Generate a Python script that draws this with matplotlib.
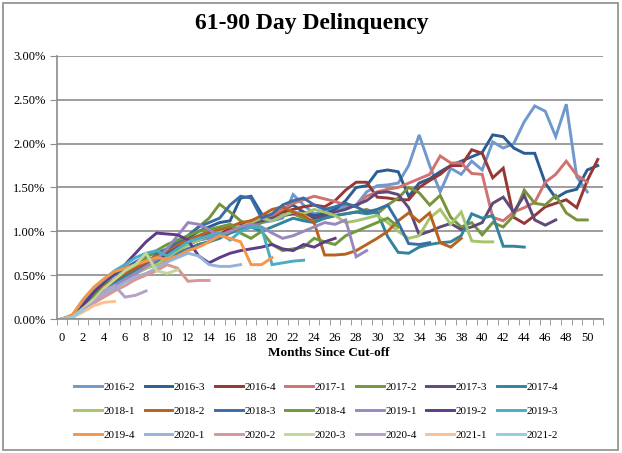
import numpy as np
import matplotlib
matplotlib.use("Agg")
import matplotlib.pyplot as plt
from matplotlib.patches import Rectangle
from matplotlib.ticker import PercentFormatter

# delinquency rate (%) by months since cut-off, one list per vintage
v2016_2 = [0.00, 0.02, 0.10, 0.18, 0.28, 0.35, 0.45, 0.52, 0.58, 0.65, 0.72, 0.78, 0.85, 0.90, 0.92, 0.98, 1.02,
           1.00, 1.05, 1.10, 1.12, 1.15, 1.42, 1.30, 1.20, 1.22, 1.25, 1.28, 1.30, 1.45, 1.52, 1.53, 1.55, 1.75,
           2.10, 1.75, 1.45, 1.72, 1.65, 1.80, 1.70, 2.02, 1.95, 2.00, 2.25, 2.43, 2.37, 2.08, 2.45, 1.62, 1.45]
v2016_3 = [0.00, 0.03, 0.15, 0.28, 0.38, 0.45, 0.52, 0.60, 0.66, 0.72, 0.78, 0.85, 0.92, 1.00, 1.05, 1.10, 1.12,
           1.38, 1.40, 1.20, 1.15, 1.25, 1.30, 1.22, 1.18, 1.20, 1.25, 1.35, 1.50, 1.52, 1.68, 1.70, 1.68, 1.40,
           1.55, 1.60, 1.68, 1.75, 1.80, 1.85, 1.90, 2.10, 2.08, 1.95, 1.89, 1.89, 1.55, 1.38, 1.45, 1.48, 1.70, 1.75]
v2016_4 = [0.00, 0.03, 0.18, 0.30, 0.38, 0.45, 0.52, 0.58, 0.62, 0.68, 0.72, 0.80, 0.85, 0.90, 0.95, 1.00, 1.02,
           1.08, 1.12, 1.15, 1.18, 1.22, 1.25, 1.28, 1.30, 1.28, 1.35, 1.47, 1.56, 1.56, 1.39, 1.38, 1.36, 1.36,
           1.50, 1.58, 1.65, 1.75, 1.75, 1.93, 1.89, 1.61, 1.72, 1.16, 1.09, 1.18, 1.28, 1.32, 1.36, 1.27, 1.58, 1.82]
v2017_1 = [0.00, 0.02, 0.12, 0.22, 0.30, 0.38, 0.45, 0.52, 0.58, 0.62, 0.68, 0.75, 0.80, 0.85, 0.88, 0.95, 1.00,
           1.05, 1.08, 1.12, 1.18, 1.25, 1.32, 1.36, 1.40, 1.37, 1.34, 1.30, 1.28, 1.40, 1.45, 1.48, 1.50, 1.55,
           1.60, 1.65, 1.86, 1.78, 1.78, 1.66, 1.65, 1.16, 1.12, 1.22, 1.27, 1.33, 1.56, 1.65, 1.80, 1.64, 1.56]
v2017_2 = [0.00, 0.03, 0.15, 0.25, 0.35, 0.42, 0.50, 0.58, 0.65, 0.72, 0.80, 0.88, 0.95, 1.05, 1.15, 1.31, 1.22,
           1.12, 1.05, 1.10, 1.15, 1.18, 1.20, 1.15, 1.12, 1.15, 1.18, 1.20, 1.22, 1.25, 1.20, 1.30, 1.38, 1.50,
           1.44, 1.30, 1.41, 1.16, 1.05, 1.10, 0.96, 1.10, 1.05, 1.18, 1.47, 1.32, 1.30, 1.41, 1.21, 1.13, 1.13]
v2017_3 = [0.00, 0.03, 0.17, 0.28, 0.36, 0.42, 0.50, 0.58, 0.62, 0.68, 0.75, 0.82, 0.88, 0.92, 0.98, 1.02, 1.05,
           1.08, 1.10, 1.12, 1.15, 1.18, 1.20, 1.22, 1.15, 1.18, 1.22, 1.25, 1.30, 1.35, 1.44, 1.45, 1.42, 1.27,
           0.96, 1.00, 1.05, 1.09, 1.02, 1.05, 1.10, 1.32, 1.39, 1.22, 1.41, 1.13, 1.07, 1.13]
v2017_4 = [0.00, 0.03, 0.15, 0.25, 0.32, 0.40, 0.48, 0.55, 0.60, 0.65, 0.70, 0.75, 0.80, 0.85, 0.88, 0.92, 0.98,
           1.02, 1.05, 1.00, 1.05, 1.10, 1.15, 1.12, 1.10, 1.15, 1.18, 1.20, 1.22, 1.20, 1.22, 0.94, 0.76, 0.75,
           0.82, 0.85, 0.87, 0.88, 0.95, 1.20, 1.15, 1.18, 0.83, 0.83, 0.82]
v2018_1 = [0.00, 0.02, 0.12, 0.22, 0.30, 0.38, 0.45, 0.52, 0.58, 0.62, 0.70, 0.78, 0.85, 0.90, 0.95, 1.00, 1.08,
           1.05, 1.10, 1.15, 1.12, 1.18, 1.22, 1.20, 1.25, 1.22, 1.18, 1.10, 1.12, 1.15, 1.18, 1.10, 1.00, 0.92,
           0.95, 1.15, 1.25, 1.08, 1.22, 0.89, 0.88, 0.88]
v2018_2 = [0.00, 0.03, 0.18, 0.30, 0.38, 0.45, 0.52, 0.58, 0.65, 0.72, 0.78, 0.85, 0.90, 0.95, 1.00, 1.02, 1.05,
           1.10, 1.12, 1.18, 1.25, 1.28, 1.22, 1.18, 1.10, 0.73, 0.73, 0.74, 0.78, 0.85, 0.92, 1.00, 1.12, 1.21,
           1.11, 1.21, 0.87, 0.82, 0.92]
v2018_3 = [0.00, 0.04, 0.20, 0.32, 0.42, 0.50, 0.58, 0.65, 0.72, 0.75, 0.80, 0.88, 0.95, 1.05, 1.10, 1.15, 1.30,
           1.40, 1.38, 1.15, 1.20, 1.30, 1.35, 1.38, 1.30, 1.25, 1.28, 1.32, 1.28, 1.22, 1.25, 1.30, 1.10, 0.86,
           0.85, 0.87]
v2018_4 = [0.00, 0.03, 0.14, 0.26, 0.36, 0.45, 0.55, 0.62, 0.70, 0.78, 0.85, 0.90, 0.95, 1.00, 1.02, 1.05, 1.08,
           0.98, 0.92, 1.00, 0.85, 0.78, 0.80, 0.82, 0.92, 0.88, 0.85, 0.95, 1.00, 1.05, 1.10, 1.15, 1.05]
v2019_1 = [0.00, 0.02, 0.12, 0.22, 0.30, 0.38, 0.45, 0.52, 0.60, 0.68, 0.80, 0.95, 1.10, 1.08, 1.02, 0.95, 1.00,
           1.05, 1.08, 1.05, 0.98, 0.92, 0.95, 1.00, 1.05, 1.10, 1.08, 1.13, 0.71, 0.78]
v2019_2 = [0.00, 0.03, 0.15, 0.30, 0.42, 0.52, 0.62, 0.75, 0.88, 0.98, 0.97, 0.96, 0.90, 0.72, 0.64, 0.70, 0.75,
           0.78, 0.80, 0.82, 0.85, 0.80, 0.78, 0.85, 0.82, 0.88, 0.92]
v2019_3 = [0.00, 0.04, 0.22, 0.35, 0.45, 0.55, 0.62, 0.70, 0.75, 0.78, 0.72, 0.80, 0.88, 0.92, 0.95, 0.98, 0.90,
           1.00, 1.05, 1.04, 0.62, 0.64, 0.66, 0.67]
v2019_4 = [0.00, 0.05, 0.22, 0.36, 0.46, 0.54, 0.58, 0.62, 0.66, 0.70, 0.68, 0.72, 0.78, 0.82, 0.88, 0.95, 0.92,
           0.88, 0.62, 0.62, 0.70]
v2020_1 = [0.00, 0.02, 0.10, 0.20, 0.28, 0.35, 0.42, 0.48, 0.52, 0.58, 0.65, 0.70, 0.75, 0.72, 0.62, 0.60, 0.60,
           0.62]
v2020_2 = [0.00, 0.02, 0.10, 0.18, 0.25, 0.32, 0.38, 0.45, 0.50, 0.55, 0.62, 0.58, 0.43, 0.44, 0.44]
v2020_3 = [0.00, 0.02, 0.12, 0.22, 0.35, 0.45, 0.55, 0.62, 0.75, 0.55, 0.52, 0.56]
v2020_4 = [0.00, 0.02, 0.10, 0.18, 0.32, 0.38, 0.25, 0.27, 0.32]
v2021_1 = [0.00, 0.02, 0.08, 0.15, 0.19, 0.20]
v2021_2 = [0.00, 0.02, 0.10]

vintages = ['2016-2', '2016-3', '2016-4', '2017-1', '2017-2', '2017-3', '2017-4',
            '2018-1', '2018-2', '2018-3', '2018-4', '2019-1', '2019-2', '2019-3',
            '2019-4', '2020-1', '2020-2', '2020-3', '2020-4', '2021-1', '2021-2']
series = [v2016_2, v2016_3, v2016_4, v2017_1, v2017_2, v2017_3, v2017_4,
          v2018_1, v2018_2, v2018_3, v2018_4, v2019_1, v2019_2, v2019_3,
          v2019_4, v2020_1, v2020_2, v2020_3, v2020_4, v2021_1, v2021_2]
colors = ['#7098CC', '#2B5D92', '#953735', '#D17170', '#77933C', '#5F497A', '#31849B',
          '#A6C46E', '#B8621E', '#3A6DA8', '#6E9A3C', '#9A87C0', '#5E3C8A', '#4BACC6',
          '#F79646', '#97B2DA', '#D99694', '#C3D69B', '#B3A2C7', '#FAC090', '#93CDDD']

serif = ['Liberation Serif', 'DejaVu Serif']
grey = '#8C8C8C'

fig = plt.figure(figsize=(6.22, 4.53), dpi=100)
ax = fig.add_axes([0.0912, 0.2958, 0.9695 - 0.0912, 0.8764 - 0.2958])

handles = []
for name, vals, c in zip(vintages, series, colors):
    ln, = ax.plot(np.arange(len(vals)), vals, color=c, lw=2.1, label=name, solid_joinstyle='miter')
    handles.append(ln)

ax.set_xlim(-0.5, 51.5)
ax.set_ylim(0, 3.0)
ax.set_yticks(np.arange(0, 3.01, 0.5))
ax.yaxis.set_major_formatter(PercentFormatter(decimals=2))
ax.set_xticks(np.arange(0, 51, 2))
ax.set_xticks(np.arange(-0.5, 52, 1), minor=True)
ax.tick_params(axis='x', which='major', length=0, pad=9)
ax.tick_params(axis='x', which='minor', length=4, color=grey, direction='out')
ax.tick_params(axis='y', length=5, color=grey, pad=3)
for lab in ax.get_xticklabels() + ax.get_yticklabels():
    lab.set_fontfamily(serif)
    lab.set_fontsize(9)

ax.grid(axis='y', color=grey, lw=1.2)
ax.set_axisbelow(True)
for s in ['top', 'right']:
    ax.spines[s].set_visible(False)
for s in ['left', 'bottom']:
    ax.spines[s].set_color(grey)
    ax.spines[s].set_linewidth(1.2)

fig.text(0.502, 1 - 23 / 453, '61-90 Day Delinquency', ha='center', va='center',
         fontsize=17, fontweight='bold', family=serif)
fig.text(0.529, 1 - 353 / 453, 'Months Since Cut-off', ha='center', va='center',
         fontsize=9.5, fontweight='bold', family=serif)

# legend fills column by column, so reorder to read across rows
ncol, nrow = 7, 3
order = [r * ncol + c for c in range(ncol) for r in range(nrow)]
fig.legend([handles[i] for i in order], [vintages[i] for i in order],
           loc='center', bbox_to_anchor=(0.508, 0.0927), ncol=ncol, frameon=False,
           prop={'family': serif, 'size': 8}, handlelength=2.5, handletextpad=0.15,
           columnspacing=0.85, labelspacing=1.25, borderpad=0)

fig.patches.append(Rectangle((2.5 / 622, 3.5 / 453), 615 / 622, 447 / 453, transform=fig.transFigure,
                             fill=False, edgecolor=grey, lw=1.2))

fig.savefig('out.png', dpi=100)
